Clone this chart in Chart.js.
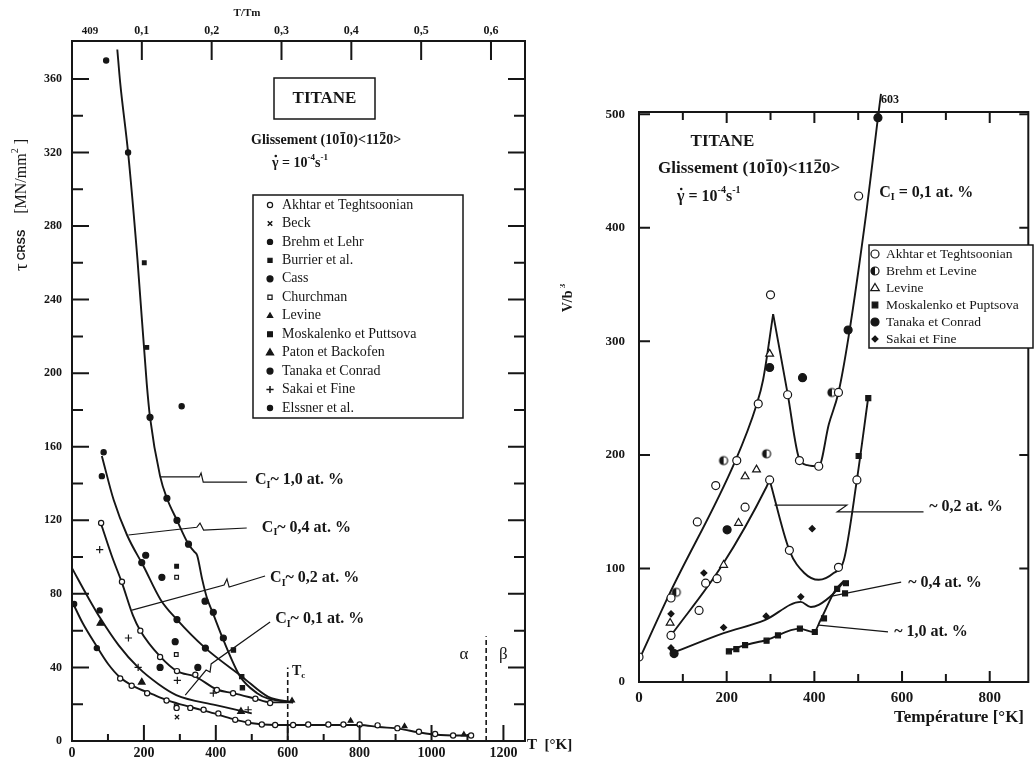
<!DOCTYPE html>
<html>
<head>
<meta charset="utf-8">
<script src="https://cdn.jsdelivr.net/npm/chart.js@4.4.1/dist/chart.umd.min.js"></script>
<style>
html, body { margin: 0; padding: 0; background: #fff; }
#wrap { position: relative; width: 1034px; height: 760px; overflow: hidden; background: #fff; }
#left { position: absolute; left: 0; top: 0; }
#right { position: absolute; left: 560px; top: 0; }
</style>
</head>
<body>
<div id="wrap">
  <canvas id="left" width="600" height="760"></canvas>
  <canvas id="right" width="474" height="760"></canvas>
</div>
<script>
const INK = '#161616';
const SERIF = '"Liberation Serif", "Times New Roman", serif';
const SANS = '"Liberation Sans", Arial, sans-serif';

// ---------- left panel : tau CRSS [MN/mm2] vs T [K] ----------
const leftXTicks = [0, 200, 400, 600, 800, 1000, 1200];
const leftTopTicks = [0.1, 0.2, 0.3, 0.4, 0.5, 0.6];
const leftYTicks = [0, 40, 80, 120, 160, 200, 240, 280, 320, 360];

const leftCurve10 = [[126,376],[134,358],[156,320],[182,262],[208,194],[217,176],[245,144],[264,132],[292,120],[324,107],[340,103],[348,101],[362,88],[375,78],[393,69],[421,55],[468,35],[515,26],[546,23],[615,21]];
const leftCurve04 = [[83,155],[116,131],[153,112],[199,95],[246,77],[292,66],[371,50.5],[473,35],[546,24],[615,21]];
const leftCurve02 = [[81,118],[110,101],[139,86],[170,68],[190,60],[245,46],[292,38],[343,35],[403,28],[448,26],[510,23],[551,21],[615,21]];
const leftCurve01 = [[0,94],[45,78],[78,67],[130,52],[184,40],[240,31],[290,25],[400,19.5],[500,15]];
const leftCurveBase = [[0,76],[30,64],[67,52],[100,42],[134,34.5],[169,30],[223,25.5],[268,22],[330,18.5],[396,15],[446,12],[496,9.8],[565,8.7],[700,8.7],[800,8.7],[853,7.6],[912,6.6],[962,4.8],[1012,3.4],[1112,2.9]];

const akhtarL = [[134,34],[166,30],[209,26],[263,22],[291,18],[329,18],[366,17],[407,15],[454,11.5],[490,10],[528,9],[565,8.7],[615,8.7],[657,9],[713,9],[755,9],[800,9],[850,8.5],[905,7],[965,5],[1010,3.8],[1060,3],[1110,3],[81,118.5],[139,86.6],[190,60],[245,45.7],[292,38],[343,36],[403,27.7],[448,26],[510,23],[551,20.7]];
const beckL = [[292,13]];
const brehmL = [[88,157],[83,144],[156,320],[69,50.5]];
const burrierL = [[201,260],[208,214],[291,95]];
const cassL = [[250,89],[205,101],[287,54],[350,40],[245,40]];
const churchmanL = [[291,89],[290,47],[290,19]];
const levineL = [[775,11],[925,8],[1090,3.5],[612,22]];
const moskalenkoL = [[449,49.5],[472,35],[474,29]];
const patonL = [[79,64],[194,32],[470,16]];
const tanakaL = [[217,176],[264,132],[292,120],[324,107],[370,76],[393,70],[421,56],[194,97],[292,66],[371,50.5]];
const sakaiL = [[77,104],[157,56],[184,40],[293,33],[393,26],[490,17]];
const elssnerL = [[95,370],[305,182],[6,74.5],[77,71]];

const leftSeries = [
  { label: 'Akhtar et Teghtsoonian', data: akhtarL, style: 'circle', r: 2.6, filled: false },
  { label: 'Beck', data: beckL, style: 'crossRot', r: 3, filled: true },
  { label: 'Brehm et Lehr', data: brehmL, style: 'circle', r: 2.6, filled: true },
  { label: 'Burrier et al.', data: burrierL, style: 'rect', r: 2.6, filled: true },
  { label: 'Cass', data: cassL, style: 'circle', r: 3, filled: true },
  { label: 'Churchman', data: churchmanL, style: 'rect', r: 2.6, filled: false },
  { label: 'Levine', data: levineL, style: 'triangle', r: 2.8, filled: true },
  { label: 'Moskalenko et Puttsova', data: moskalenkoL, style: 'rect', r: 3, filled: true },
  { label: 'Paton et Backofen', data: patonL, style: 'triangle', r: 3.8, filled: true },
  { label: 'Tanaka et Conrad', data: tanakaL, style: 'circle', r: 3, filled: true },
  { label: 'Sakai et Fine', data: sakaiL, style: 'cross', r: 3.6, filled: true },
  { label: 'Elssner et al.', data: elssnerL, style: 'circle', r: 2.6, filled: true }
];

// ---------- right panel : V/b3 vs temperature ----------
const rightXTicks = [0, 200, 400, 600, 800];
const rightYTicks = [0, 100, 200, 300, 400, 500];

const rightRise01 = [[2,21],[70,78],[220,195],[268,244],[283,266],[306,324]];
const rightFall01 = [[306,324],[339,254],[366,196],[384,191],[410,190],[433,227],[455,255],[478,304],[519,415],[545,497],[552,518]];
const rightRise02 = [[73,41],[190,103],[291,172],[298,178]];
const rightFall02 = [[298,178],[343,116],[377,96],[410,90],[444,96],[467,107],[497,178],[523,251]];
const rightCurve04 = [[73,25],[193,43],[287,54.5],[369,70.6],[392,66],[410,68],[444,78],[467,88]];
const rightCurve10 = [[201,27],[242,32.5],[291,37],[366,47],[399,44],[414,54.5],[448,81],[467,89]];

const akhtarR = [[0,22],[73,74],[133,141],[175,173],[223,195],[272,245],[300,341],[339,253],[366,195],[410,190],[455,255],[501,428],[73,41],[137,63],[152,87],[178,91],[242,154],[298,178],[343,116],[455,101],[497,178]];
const brehmLevineR = [[85,79],[193,195],[291,201],[440,255]];
const levineR = [[71,52],[227,140],[242,181],[268,187],[298,289],[193,103]];
const moskalenkoR = [[205,27],[222,29],[242,32.5],[291,36.4],[317,41],[367,47],[401,44],[422,56],[452,82],[470,78],[472,87],[523,250],[501,199]];
const tanakaR = [[298,277],[373,268],[201,134],[80,25],[477,310],[545,497]];
const sakaiR = [[73,60],[148,96],[395,135],[73,30],[193,48],[290,58],[369,75]];

function halfDot(r) {
  const c = document.createElement('canvas');
  const s = Math.ceil(2 * r + 4);
  c.width = c.height = s;
  const g = c.getContext('2d');
  const m = s / 2;
  g.fillStyle = '#fff';
  g.beginPath(); g.arc(m, m, r, 0, 2 * Math.PI); g.fill();
  g.fillStyle = INK;
  g.beginPath(); g.moveTo(m, m - r); g.arc(m, m, r, -Math.PI / 2, Math.PI / 2, true); g.closePath(); g.fill();
  g.strokeStyle = INK; g.lineWidth = 1.2;
  g.beginPath(); g.arc(m, m, r, 0, 2 * Math.PI); g.stroke();
  return c;
}
const halfImg = halfDot(4);

const rightSeries = [
  { label: 'Akhtar et Teghtsoonian', data: akhtarR, style: 'circle', r: 4, filled: false },
  { label: 'Brehm et Levine', data: brehmLevineR, style: halfImg, r: 4, filled: true },
  { label: 'Levine', data: levineR, style: 'triangle', r: 4.5, filled: false },
  { label: 'Moskalenko et Puptsova', data: moskalenkoR, style: 'rect', r: 3.5, filled: true },
  { label: 'Tanaka et Conrad', data: tanakaR, style: 'circle', r: 4, filled: true },
  { label: 'Sakai et Fine', data: sakaiR, style: 'rectRot', r: 3, filled: true }
];

// ---------- helpers ----------
const pts = arr => arr.map(p => ({ x: p[0], y: p[1] }));

const curveSet = (arr, extra) => Object.assign({
  data: pts(arr), showLine: true, borderColor: INK, borderWidth: 1.9,
  pointRadius: 0, cubicInterpolationMode: 'monotone', fill: false
}, extra || {});

const markerSet = s => ({
  data: pts(s.data), showLine: false, pointStyle: s.style, pointRadius: s.r,
  pointBackgroundColor: s.filled ? INK : '#fff', pointBorderColor: INK, pointBorderWidth: 1.2
});

const fixTicks = list => scale => { scale.ticks = list.map(v => ({ value: v })); };

function marker(ctx, s, x, y) {
  ctx.save();
  ctx.fillStyle = s.filled ? INK : '#fff';
  ctx.strokeStyle = INK;
  ctx.lineWidth = 1.2;
  const r = s.r;
  ctx.beginPath();
  if (typeof s.style !== 'string') {
    ctx.drawImage(s.style, x - s.style.width / 2, y - s.style.height / 2);
  } else if (s.style === 'circle') {
    ctx.arc(x, y, r, 0, 2 * Math.PI); ctx.fill(); ctx.stroke();
  } else if (s.style === 'rect') {
    ctx.rect(x - r * 0.8, y - r * 0.8, r * 1.6, r * 1.6); ctx.fill(); ctx.stroke();
  } else if (s.style === 'triangle') {
    ctx.moveTo(x, y - r); ctx.lineTo(x + r * 0.95, y + r * 0.6); ctx.lineTo(x - r * 0.95, y + r * 0.6); ctx.closePath(); ctx.fill(); ctx.stroke();
  } else if (s.style === 'rectRot') {
    ctx.moveTo(x, y - r); ctx.lineTo(x + r, y); ctx.lineTo(x, y + r); ctx.lineTo(x - r, y); ctx.closePath(); ctx.fill(); ctx.stroke();
  } else if (s.style === 'cross') {
    ctx.lineWidth = 1.5;
    ctx.moveTo(x - r, y); ctx.lineTo(x + r, y); ctx.moveTo(x, y - r); ctx.lineTo(x, y + r); ctx.stroke();
  } else if (s.style === 'crossRot') {
    ctx.lineWidth = 1.5;
    const d = r * 0.75;
    ctx.moveTo(x - d, y - d); ctx.lineTo(x + d, y + d); ctx.moveTo(x + d, y - d); ctx.lineTo(x - d, y + d); ctx.stroke();
  }
  ctx.restore();
}

// parts: {t, size, bold, family, sub, sup, bar, dot}
function rich(ctx, x, y, parts, align) {
  ctx.textBaseline = 'middle';
  ctx.textAlign = 'left';
  const fontOf = p => {
    const sz = (p.sub || p.sup) ? Math.round(p.size * 0.62) : p.size;
    return (p.bold === false ? '' : 'bold ') + sz + 'px ' + (p.family || SERIF);
  };
  let w = 0;
  parts.forEach(p => { ctx.font = fontOf(p); p.w = ctx.measureText(p.t).width; w += p.w; });
  let cx = align === 'center' ? x - w / 2 : align === 'right' ? x - w : x;
  parts.forEach(p => {
    ctx.font = fontOf(p);
    const dy = p.sub ? p.size * 0.32 : p.sup ? -p.size * 0.4 : 0;
    ctx.fillText(p.t, cx, y + dy);
    if (p.bar) {
      ctx.beginPath(); ctx.lineWidth = 1.3;
      ctx.moveTo(cx + 1, y - p.size * 0.52); ctx.lineTo(cx + p.w - 1, y - p.size * 0.52); ctx.stroke();
    }
    if (p.dot) {
      ctx.beginPath(); ctx.arc(cx + p.w / 2 + 0.5, y - p.size * 0.5, 1.3, 0, 2 * Math.PI); ctx.fill();
    }
    cx += p.w;
  });
}

function polyline(ctx, chart, arr, width) {
  const { x, y } = chart.scales;
  ctx.beginPath();
  ctx.lineWidth = width || 1.2;
  arr.forEach((p, i) => {
    const px = x.getPixelForValue(p[0]), py = y.getPixelForValue(p[1]);
    if (i === 0) ctx.moveTo(px, py); else ctx.lineTo(px, py);
  });
  ctx.stroke();
}

const cLabel = (txt, size) => [
  { t: 'C', size: size }, { t: 'I', size: size, sub: true }, { t: txt, size: size }
];

// ---------- left decorations ----------
const leftLeaders = [
  { line: [[245,143.6],[354,143.6],[359,145.7],[365,140.8],[487,140.8]], at: [509,141.8], text: '~ 1,0 at. %' },
  { line: [[157,112],[347,116.2],[356,118.5],[366,114.7],[486,115.8]], at: [528,116], text: '~ 0,4 at. %' },
  { line: [[167,71.2],[423,84.8],[431,88.1],[437,83.7],[537,89.7]], at: [551,88.6], text: '~ 0,2 at. %' },
  { line: [[315,25],[373,38.6],[384,37.5],[387,41.9],[551,64.7]], at: [565,66.3], text: '~ 0,1 at. %' }
];

const leftDeco = {
  id: 'leftDeco',
  afterDraw(chart) {
    const { ctx, chartArea: a, scales: { x, y, x2 } } = chart;
    ctx.save();
    ctx.strokeStyle = INK; ctx.fillStyle = INK;
    ctx.lineWidth = 2;
    ctx.strokeRect(a.left, a.top, a.right - a.left, a.bottom - a.top);
    ctx.beginPath();
    for (let t = 100; t <= 1200; t += 100) {
      const px = x.getPixelForValue(t);
      ctx.moveTo(px, a.bottom); ctx.lineTo(px, a.bottom - (t % 200 === 0 ? 16 : 7));
    }
    for (let v = 20; v <= 360; v += 20) {
      const py = y.getPixelForValue(v);
      const len = v % 40 === 0 ? 17 : 11;
      ctx.moveTo(a.left, py); ctx.lineTo(a.left + len, py);
      ctx.moveTo(a.right, py); ctx.lineTo(a.right - len, py);
    }
    leftTopTicks.forEach(k => {
      const px = x2.getPixelForValue(k);
      ctx.moveTo(px, a.top); ctx.lineTo(px, a.top + 19);
    });
    ctx.stroke();

    // dashed markers Tc and alpha/beta transus
    ctx.setLineDash([5, 3]);
    polyline(ctx, chart, [[600,0],[600,40]], 1.6);
    polyline(ctx, chart, [[1152,0],[1152,57]], 1.6);
    ctx.setLineDash([]);
    rich(ctx, x.getPixelForValue(612), y.getPixelForValue(38), [{ t: 'T', size: 14 }, { t: 'c', size: 14, sub: true }]);
    rich(ctx, x.getPixelForValue(1090), y.getPixelForValue(47), [{ t: 'α', size: 17, bold: false }], 'center');
    rich(ctx, x.getPixelForValue(1200), y.getPixelForValue(47), [{ t: 'β', size: 17, bold: false }], 'center');

    // concentration leaders
    leftLeaders.forEach(l => {
      polyline(ctx, chart, l.line, 1.2);
      rich(ctx, x.getPixelForValue(l.at[0]), y.getPixelForValue(l.at[1]), cLabel(l.text, 16));
    });

    // titles
    rich(ctx, 247, 13, [{ t: 'T/Tm', size: 11 }], 'center');
    rich(ctx, 90, 31, [{ t: '409', size: 11 }], 'center');
    rich(ctx, 527, 745, [{ t: 'T  [°K]', size: 15 }]);
    ctx.save();
    ctx.translate(22, 205);
    ctx.rotate(-Math.PI / 2);
    rich(ctx, 0, 0, [
      { t: 'τ', size: 19, bold: false },
      { t: ' CRSS', size: 11, bold: true, family: SANS },
      { t: '    [MN/mm', size: 16, bold: false },
      { t: '2', size: 16, bold: false, sup: true },
      { t: ' ]', size: 16, bold: false }
    ], 'center');
    ctx.restore();

    // TITANE box and glide system
    ctx.lineWidth = 1.5;
    ctx.strokeRect(274, 78, 101, 41);
    rich(ctx, 324.5, 99, [{ t: 'TITANE', size: 17 }], 'center');
    rich(ctx, 251, 140, [
      { t: 'Glissement (10', size: 14 }, { t: '1', size: 14, bar: true }, { t: '0)<11', size: 14 },
      { t: '2', size: 14, bar: true }, { t: '0>', size: 14 }
    ]);
    rich(ctx, 272, 163, [
      { t: 'γ', size: 14, dot: true }, { t: ' = 10', size: 14 }, { t: '-4', size: 14, sup: true },
      { t: 's', size: 14 }, { t: '-1', size: 14, sup: true }
    ]);

    // legend
    ctx.fillStyle = '#fff';
    ctx.fillRect(253, 195, 210, 223);
    ctx.lineWidth = 1.5; ctx.strokeStyle = INK;
    ctx.strokeRect(253, 195, 210, 223);
    leftSeries.forEach((s, i) => {
      const ly = 205 + i * 18.45;
      marker(ctx, s, 270, ly);
      ctx.fillStyle = INK;
      rich(ctx, 282, ly, [{ t: s.label, size: 14, bold: false }]);
    });
    ctx.restore();
  }
};

// ---------- right decorations ----------
const rightLeaders = [
  { line: [[309,155.7],[474,155.7],[452,149.8],[649,149.8]], at: [662,154], text: '~ 0,2 at. %' },
  { line: [[440,75.6],[598,88]], at: [614,87], text: '~ 0,4 at. %' },
  { line: [[410,50.1],[568,44.2]], at: [582,44.2], text: '~ 1,0 at. %' }
];

const rightDeco = {
  id: 'rightDeco',
  afterDraw(chart) {
    const { ctx, chartArea: a, scales: { x, y } } = chart;
    ctx.save();
    ctx.strokeStyle = INK; ctx.fillStyle = INK;
    ctx.lineWidth = 2;
    ctx.strokeRect(a.left, a.top, a.right - a.left, a.bottom - a.top);
    ctx.beginPath();
    for (let t = 100; t <= 800; t += 100) {
      const px = x.getPixelForValue(t);
      const len = t % 200 === 0 ? 11 : 8;
      ctx.moveTo(px, a.bottom); ctx.lineTo(px, a.bottom - len);
      ctx.moveTo(px, a.top); ctx.lineTo(px, a.top + len);
    }
    for (let v = 100; v <= 500; v += 100) {
      const py = y.getPixelForValue(v);
      ctx.moveTo(a.left, py); ctx.lineTo(a.left + 11, py);
      ctx.moveTo(a.right, py); ctx.lineTo(a.right - 9, py);
    }
    ctx.stroke();

    rightLeaders.forEach(l => {
      polyline(ctx, chart, l.line, 1.2);
      rich(ctx, x.getPixelForValue(l.at[0]), y.getPixelForValue(l.at[1]), [{ t: l.text, size: 16 }]);
    });
    rich(ctx, x.getPixelForValue(548), y.getPixelForValue(431), [
      { t: 'C', size: 16 }, { t: 'I', size: 16, sub: true }, { t: ' = 0,1 at. %', size: 16 }
    ]);
    rich(ctx, x.getPixelForValue(552), y.getPixelForValue(513), [{ t: '603', size: 12 }]);

    rich(ctx, 162.5, 142, [{ t: 'TITANE', size: 17 }], 'center');
    rich(ctx, 98, 169, [
      { t: 'Glissement (10', size: 17 }, { t: '1', size: 17, bar: true }, { t: '0)<11', size: 17 },
      { t: '2', size: 17, bar: true }, { t: '0>', size: 17 }
    ]);
    rich(ctx, 117, 197, [
      { t: 'γ', size: 16, dot: true }, { t: ' = 10', size: 16 }, { t: '-4', size: 16, sup: true },
      { t: 's', size: 16 }, { t: '-1', size: 16, sup: true }
    ]);
    rich(ctx, 399, 718, [{ t: 'Température [°K]', size: 17 }], 'center');
    ctx.save();
    ctx.translate(8, 298);
    ctx.rotate(-Math.PI / 2);
    rich(ctx, 0, 0, [{ t: 'V/b', size: 14 }, { t: ' 3', size: 14, sup: true }], 'center');
    ctx.restore();

    // legend
    ctx.fillStyle = '#fff';
    ctx.fillRect(309, 245, 164, 103);
    ctx.lineWidth = 1.5;
    ctx.strokeRect(309, 245, 164, 103);
    rightSeries.forEach((s, i) => {
      const ly = 254 + i * 17;
      marker(ctx, s, 315, ly);
      ctx.fillStyle = INK;
      rich(ctx, 326, ly, [{ t: s.label, size: 13.5, bold: false }]);
    });
    ctx.restore();
  }
};

const tickFont = size => ({ family: SERIF, size: size, weight: 'bold' });
const baseOptions = {
  responsive: false,
  animation: false,
  devicePixelRatio: 1,
  plugins: { legend: { display: false }, tooltip: { enabled: false } }
};
const plainGrid = { display: false, drawTicks: false };

new Chart(document.getElementById('left'), {
  type: 'scatter',
  data: {
    datasets: [
      ...leftSeries.map(markerSet),
      curveSet(leftCurve10), curveSet(leftCurve04), curveSet(leftCurve02),
      curveSet(leftCurve01), curveSet(leftCurveBase)
    ]
  },
  options: Object.assign({}, baseOptions, {
    layout: { padding: { left: 0, right: 75, top: 0, bottom: 0 } },
    scales: {
      x: {
        type: 'linear', position: 'bottom', min: 0, max: 1260,
        afterBuildTicks: fixTicks(leftXTicks),
        afterFit: s => { s.height = 19; },
        grid: plainGrid, border: { display: false },
        ticks: { autoSkip: false, maxRotation: 0, padding: 4, color: INK, font: tickFont(14), callback: v => String(v) }
      },
      x2: {
        type: 'linear', position: 'top', min: 0, max: 0.6487,
        afterBuildTicks: fixTicks(leftTopTicks),
        afterFit: s => { s.height = 41; },
        grid: plainGrid, border: { display: false },
        ticks: {
          autoSkip: false, maxRotation: 0, padding: 3, color: INK, font: tickFont(12),
          callback: v => v.toFixed(1).replace('.', ',')
        }
      },
      y: {
        type: 'linear', min: 0, max: 380.6,
        afterBuildTicks: fixTicks(leftYTicks),
        afterFit: s => { s.width = 72; },
        grid: plainGrid, border: { display: false },
        ticks: { padding: 10, color: INK, font: tickFont(12), callback: v => String(v) }
      }
    }
  }),
  plugins: [leftDeco]
});

new Chart(document.getElementById('right'), {
  type: 'scatter',
  data: {
    datasets: [
      ...rightSeries.map(markerSet),
      curveSet(rightRise01), curveSet(rightFall01, { clip: false }),
      curveSet(rightRise02), curveSet(rightFall02),
      curveSet(rightCurve04), curveSet(rightCurve10)
    ]
  },
  options: Object.assign({}, baseOptions, {
    layout: { padding: { left: 0, right: 0, top: 112, bottom: 0 } },
    scales: {
      x: {
        type: 'linear', position: 'bottom', min: 0, max: 888,
        afterBuildTicks: fixTicks(rightXTicks),
        afterFit: s => { s.height = 78; },
        grid: plainGrid, border: { display: false },
        ticks: { autoSkip: false, maxRotation: 0, padding: 7, color: INK, font: tickFont(15), callback: v => String(v) }
      },
      y: {
        type: 'linear', min: 0, max: 502,
        afterBuildTicks: fixTicks(rightYTicks),
        afterFit: s => { s.width = 79; },
        grid: plainGrid, border: { display: false },
        ticks: { padding: 14, color: INK, font: tickFont(13), callback: v => String(v) }
      }
    }
  }),
  plugins: [rightDeco]
});
</script>
</body>
</html>
